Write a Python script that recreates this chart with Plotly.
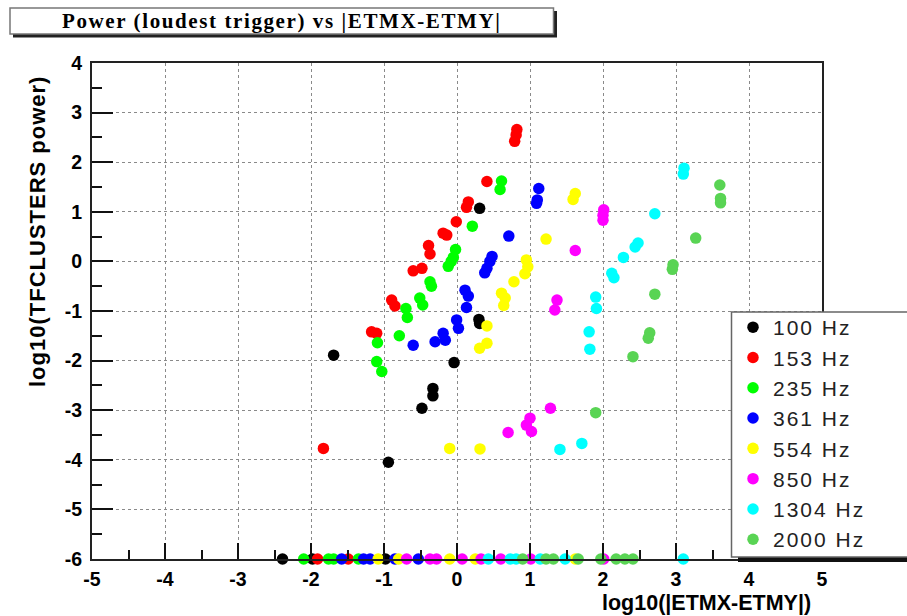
import plotly.graph_objects as go

# ---- data: log10(|ETMX-ETMY|) vs log10(TFCLUSTERS power) per injection frequency ----
freq_labels = ["100 Hz", "153 Hz", "235 Hz", "361 Hz", "554 Hz", "850 Hz", "1304 Hz", "2000 Hz"]

x_100 = [-1.69, -0.94, -0.48, -0.33, -0.33, -0.04, 0.30, 0.31, 0.31, -2.39, -1.98, -0.98]
y_100 = [-1.89, -4.05, -2.96, -2.56, -2.71, -2.04, -1.17, -1.25, 1.07, -6, -6, -6]

x_153 = [0.82, 0.81, 0.79, 0.41, 0.155, 0.13, -0.01, -0.19, -0.14, -0.39, -0.37, -0.60, -0.48,
         -0.895, -0.85, -1.17, -1.10, -1.83, -1.91, -1.49]
y_153 = [2.66, 2.55, 2.42, 1.61, 1.20, 1.09, 0.80, 0.57, 0.53, 0.32, 0.15, -0.19, -0.14,
         -0.78, -0.90, -1.42, -1.45, -3.77, -6, -6]

x_235 = [0.61, 0.59, 0.21, -0.02, -0.05, -0.08, -0.12, -0.37, -0.35, -0.51, -0.47, -0.70, -0.68,
         -0.79, -1.09, -1.10, -1.03, -2.10, -1.76, -1.69, -1.35]
y_235 = [1.62, 1.45, 0.71, 0.24, 0.08, 0.00, -0.10, -0.41, -0.50, -0.74, -0.88, -0.95, -1.13,
         -1.50, -1.64, -2.02, -2.22, -6, -6, -6, -6]

x_361 = [1.12, 1.10, 1.09, 0.71, 0.48, 0.45, 0.41, 0.38, 0.11, 0.155, 0.13, -0.005, 0.02,
         -0.19, -0.16, -0.30, -0.60, -1.58, -1.28, -1.19, -0.85, -0.53]
y_361 = [1.47, 1.24, 1.17, 0.51, 0.10, 0.00, -0.14, -0.23, -0.58, -0.70, -0.93, -1.18, -1.35,
         -1.45, -1.59, -1.62, -1.69, -6, -6, -6, -6, -6]

x_554 = [1.62, 1.59, 1.22, 0.95, 0.97, 0.93, 0.78, 0.61, 0.66, 0.64, 0.41, 0.31, 0.41, -0.10,
         0.315, -1.08, -0.80, -0.10, 0.25, 1.62]
y_554 = [1.37, 1.25, 0.45, 0.03, -0.11, -0.25, -0.41, -0.64, -0.74, -0.89, -1.30, -1.75, -1.65,
         -3.77, -3.78, -6, -6, -6, -6, -6]

x_850 = [2.01, 2.00, 2.00, 1.62, 1.37, 1.34, 1.28, 1.00, 0.95, 1.02, 0.70, -0.69, -0.37, -0.28,
         0.07, 0.33, 0.60, 1.01, 2.01]
y_850 = [1.04, 0.93, 0.83, 0.22, -0.78, -0.98, -2.96, -3.16, -3.30, -3.43, -3.45, -6, -6, -6,
         -6, -6, -6, -6, -6]

x_1304 = [3.11, 3.10, 2.71, 2.48, 2.44, 2.28, 2.12, 2.15, 1.90, 1.91, 1.81, 1.82, 1.71, 1.41,
          0.43, 0.73, 0.81, 1.14, 1.48, 3.10]
y_1304 = [1.88, 1.76, 0.96, 0.37, 0.29, 0.08, -0.24, -0.33, -0.72, -0.95, -1.42, -1.77, -3.67,
          -3.79, -6, -6, -6, -6, -6, -6]

x_2000 = [3.60, 3.61, 3.61, 3.27, 2.96, 2.95, 2.71, 2.64, 2.62, 2.41, 1.90, 0.90, 1.22, 1.32,
          1.66, 1.97, 2.18, 2.30, 2.41]
y_2000 = [1.54, 1.27, 1.18, 0.47, -0.07, -0.16, -0.66, -1.44, -1.55, -1.92, -3.05, -6, -6, -6,
          -6, -6, -6, -6, -6]

x_ticks = [-5, -4, -3, -2, -1, 0, 1, 2, 3, 4, 5]
y_ticks = [-6, -5, -4, -3, -2, -1, 0, 1, 2, 3, 4]

series_x = [x_100, x_153, x_235, x_361, x_554, x_850, x_1304, x_2000]
series_y = [y_100, y_153, y_235, y_361, y_554, y_850, y_1304, y_2000]
colors = ["#000000", "#ff0000", "#00ff00", "#0000ff", "#ffff00", "#ff00ff", "#00ffff", "#59d454"]

# ---- canvas geometry (pixels) ----
W, H = 907, 616
def fx(p):
    return p / W
def fy(p):
    return 1 - p / H

SANS = "Liberation Sans, Arial, Helvetica, sans-serif"
SERIF = "Liberation Serif, Times New Roman, serif"

fig = go.Figure()
for name, col, xs, ys in zip(freq_labels, colors, series_x, series_y):
    fig.add_trace(go.Scatter(
        x=xs, y=ys, mode="markers",
        name='<span style="letter-spacing:2px">' + name + "</span>",
        marker=dict(color=col, size=11.5, line=dict(width=0)),
        cliponaxis=False,
    ))

axis_common = dict(
    ticks="inside", tickcolor="#111", tickwidth=1.5,
    showline=True, linecolor="#222", linewidth=2, mirror=True,
    showgrid=True, gridcolor="#8a8a8a", griddash="dot", gridwidth=1,
    zeroline=False, automargin=False,
    tickfont=dict(family=SANS, size=19.5, color="black", weight="bold"),
)

fig.update_xaxes(
    domain=[fx(92), fx(822)], range=[-5, 5],
    tickvals=x_ticks, ticktext=[str(v) for v in x_ticks], ticklen=16,
    minor=dict(dtick=0.5, tick0=-5, ticks="inside", ticklen=9, tickcolor="#111",
               tickwidth=1.5, showgrid=False),
    ticklabelstandoff=2,
    **axis_common,
)
fig.update_yaxes(
    domain=[fy(559), fy(63)], range=[-6, 4],
    tickvals=y_ticks, ticktext=[str(v) for v in y_ticks], ticklen=21,
    minor=dict(dtick=0.5, tick0=-6, ticks="inside", ticklen=10, tickcolor="#111",
               tickwidth=1.5, showgrid=False),
    ticklabelstandoff=4,
    **axis_common,
)

shapes = [
    # title pave: shadow then box
    dict(type="rect", xref="paper", yref="paper", x0=fx(13), x1=fx(557), y0=fy(37.5), y1=fy(11),
         fillcolor="#222", line=dict(width=0), layer="above"),
    dict(type="rect", xref="paper", yref="paper", x0=fx(10), x1=fx(553.5), y0=fy(34), y1=fy(8),
         fillcolor="white", line=dict(color="#777", width=1.5), layer="above"),
    # legend pave: shadow then box
    dict(type="rect", xref="paper", yref="paper", x0=fx(738), x1=fx(925), y0=fy(562), y1=fy(318),
         fillcolor="#111", line=dict(width=0), layer="above"),
    dict(type="rect", xref="paper", yref="paper", x0=fx(731.5), x1=fx(920), y0=fy(557), y1=fy(312),
         fillcolor="white", line=dict(color="#666", width=1.5), layer="above"),
]

annotations = [
    dict(text='<span style="letter-spacing:1.6px">Power (loudest trigger) vs |ETMX-ETMY|</span>',
         xref="paper", yref="paper", x=fx(281), y=fy(21.5), xanchor="center", yanchor="middle",
         showarrow=False, font=dict(family=SERIF, size=21, color="black", weight="bold")),
    dict(text='<span style="letter-spacing:1px">log10(TFCLUSTERS power)</span>',
         xref="paper", yref="paper", x=fx(37), y=fy(232), xanchor="center", yanchor="middle",
         textangle=-90, showarrow=False,
         font=dict(family=SANS, size=22, color="black", weight="bold")),
    dict(text="log10(|ETMX-ETMY|)",
         xref="paper", yref="paper", x=fx(813), y=fy(603), xanchor="right", yanchor="middle",
         showarrow=False, font=dict(family=SANS, size=21.5, color="black", weight="bold")),
]

fig.update_layout(
    width=W, height=H,
    margin=dict(l=0, r=0, t=0, b=0),
    paper_bgcolor="white", plot_bgcolor="white",
    showlegend=True,
    legend=dict(
        x=fx(733), y=fy(307), xanchor="left", yanchor="top",
        bgcolor="rgba(0,0,0,0)", borderwidth=0,
        font=dict(family=SANS, size=21, color="#222"),
    ),
    shapes=shapes,
    annotations=annotations,
)

fig.write_html("out.html")
